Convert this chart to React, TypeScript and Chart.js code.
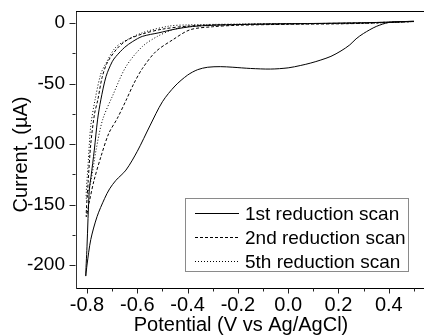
import React, { useEffect, useRef } from "react";
import { Chart, registerables } from "chart.js";
Chart.register(...registerables);

// 1st reduction scan (solid): forward sweep 0.5 -> -0.805, then return
const scan1X = [0.5, 0.45, 0.4, 0.35, 0.3, 0.27, 0.245, 0.21, 0.17, 0.13, 0.09, 0.05, 0.0, -0.07, -0.15, -0.22, -0.27, -0.32, -0.36, -0.4, -0.45, -0.5, -0.55, -0.6, -0.645, -0.685, -0.71, -0.73, -0.76, -0.785, -0.8, -0.805,
  -0.8, -0.791, -0.784, -0.771, -0.758, -0.745, -0.724, -0.7, -0.685, -0.65, -0.618, -0.58, -0.514, -0.45, -0.38, -0.3, -0.2, -0.1, 0.0, 0.1, 0.2, 0.3, 0.4, 0.5];
const scan1Y = [1.5, 1.2, 0.5, -2.8, -8.5, -13, -18, -23, -27.5, -30.5, -33, -35, -37, -38, -37.5, -36.5, -36, -36.5, -38.5, -43, -52, -65, -85, -106, -121.5, -130, -137, -145, -160, -179, -200, -209,
  -185, -138, -127, -105, -80, -63.5, -44, -32, -27.6, -20, -15.2, -11, -8, -5, -2.8, -1.8, -1.2, -0.8, -0.5, -0.3, 0, 0.3, 0.8, 1.5];

// 2nd reduction scan (dashed)
const scan2X = [0.5, 0.4, 0.3, 0.2, 0.0, -0.2, -0.3, -0.39, -0.459, -0.526, -0.579, -0.613, -0.645, -0.68, -0.713, -0.744, -0.772, -0.79, -0.803,
  -0.795, -0.785, -0.77, -0.757, -0.74, -0.72, -0.68, -0.64, -0.58, -0.5, -0.4, -0.3, -0.1, 0.1, 0.3, 0.5];
const scan2Y = [1.3, 0.5, -0.2, -0.6, -1, -1.8, -3, -5.5, -13.8, -23.5, -37.3, -49.7, -64, -79, -91, -110, -130, -147, -160,
  -130, -100, -75, -63.5, -45, -33, -21, -14, -9, -5, -2.5, -1.5, -0.8, -0.4, 0.2, 1.3];

// 5th reduction scan (dotted)
const scan5X = [0.5, 0.3, 0.1, -0.1, -0.3, -0.4, -0.459, -0.52, -0.58, -0.645, -0.698, -0.738, -0.764, -0.784, -0.803,
  -0.795, -0.785, -0.768, -0.745, -0.724, -0.69, -0.66, -0.58, -0.474, -0.4, -0.2, 0.0, 0.2, 0.5];
const scan5Y = [1.3, -0.2, -0.5, -0.9, -1.8, -3, -5.5, -11, -19.4, -36, -60, -80, -105, -130, -145,
  -115, -85, -63.5, -42, -33, -21, -16, -8, -2.5, -1.5, -0.8, -0.4, -0.2, 1.3];

const seriesLabels = ["1st reduction scan", "2nd reduction scan", "5th reduction scan"];
const seriesDash: number[][] = [[], [3, 2], [1, 2]];

const xMajorTicks = [-0.8, -0.6, -0.4, -0.2, 0, 0.2, 0.4];
const xMinorTicks = [-0.7, -0.5, -0.3, -0.1, 0.1, 0.3, 0.5];
const yMajorTicks = [0, -50, -100, -150, -200];
const yMinorTicks = [-25, -75, -125, -175];
const xTitle = "Potential (V vs Ag/AgCl)";
const yTitle = "Current  (\u00b5A)";

const FONT = "'Liberation Sans', Arial, sans-serif";

const toPoints = (xs: number[], ys: number[]) => xs.map((x, i) => ({ x, y: ys[i] }));

const framePlugin = {
  id: "framePlugin",
  afterDraw(chart: any) {
    const { ctx, chartArea } = chart;
    const xs = chart.scales.x;
    const ys = chart.scales.y;
    ctx.save();
    // top border
    ctx.strokeStyle = "#000";
    ctx.lineWidth = 1;
    ctx.beginPath();
    ctx.moveTo(chartArea.left, Math.round(chartArea.top) + 0.5);
    ctx.lineTo(chartArea.right, Math.round(chartArea.top) + 0.5);
    ctx.stroke();
    // ticks
    ctx.strokeStyle = "#222";
    const bottom = Math.round(chartArea.bottom) + 0.5;
    const left = Math.round(chartArea.left) - 0.5;
    const drawX = (v: number, len: number) => {
      const px = Math.round(xs.getPixelForValue(v)) + 0.5;
      ctx.beginPath();
      ctx.moveTo(px, bottom);
      ctx.lineTo(px, bottom + len);
      ctx.stroke();
    };
    const drawY = (v: number, len: number) => {
      const py = Math.round(ys.getPixelForValue(v)) + 0.5;
      ctx.beginPath();
      ctx.moveTo(left, py);
      ctx.lineTo(left - len, py);
      ctx.stroke();
    };
    xMajorTicks.forEach((v) => drawX(v, 5));
    xMinorTicks.forEach((v) => drawX(v, 3));
    yMajorTicks.forEach((v) => drawY(v, 6));
    yMinorTicks.forEach((v) => drawY(v, 3));
    // axis titles
    ctx.fillStyle = "#000";
    ctx.font = `20px ${FONT}`;
    ctx.textAlign = "center";
    ctx.textBaseline = "alphabetic";
    ctx.fillText(xTitle, 241, 331);
    ctx.save();
    ctx.translate(27, (chartArea.top + chartArea.bottom) / 2 + 5);
    ctx.rotate(-Math.PI / 2);
    ctx.fillText(yTitle, 0, 0);
    ctx.restore();
    // legend
    const bx = 185.5, by = 198.5, bw = 223, bh = 73;
    ctx.strokeStyle = "#8a8a8a";
    ctx.lineWidth = 1;
    ctx.strokeRect(bx, by, bw, bh);
    ctx.font = `19px ${FONT}`;
    ctx.textAlign = "left";
    ctx.textBaseline = "middle";
    const rows = [213.5, 237.5, 261.5];
    chart.data.datasets.forEach((ds: any, i: number) => {
      ctx.strokeStyle = "#000";
      ctx.setLineDash(ds.borderDash || []);
      ctx.beginPath();
      ctx.moveTo(195, rows[i]);
      ctx.lineTo(239, rows[i]);
      ctx.stroke();
      ctx.setLineDash([]);
      ctx.fillStyle = "#000";
      ctx.fillText(ds.label, 245, rows[i] + 1);
    });
    ctx.restore();
  },
};

export default function App() {
  const ref = useRef<HTMLCanvasElement | null>(null);
  useEffect(() => {
    if (!ref.current) return;
    const series = [
      toPoints(scan1X, scan1Y),
      toPoints(scan2X, scan2Y),
      toPoints(scan5X, scan5Y),
    ];
    const chart = new Chart(ref.current, {
      type: "scatter",
      data: {
        datasets: series.map((data, i) => ({
          label: seriesLabels[i],
          data,
          showLine: true,
          borderColor: "#000",
          backgroundColor: "#000",
          borderWidth: 1,
          borderDash: seriesDash[i],
          pointRadius: 0,
          tension: 0.3,
          fill: false,
        })),
      },
      options: {
        responsive: false,
        animation: false,
        devicePixelRatio: 1,
        layout: { padding: { top: 11, right: 0, left: 0, bottom: 0 } },
        plugins: { legend: { display: false }, tooltip: { enabled: false } },
        scales: {
          x: {
            type: "linear",
            min: -0.8437,
            max: 0.54,
            grid: { display: false },
            border: { display: true, color: "#000", width: 1 },
            afterFit: (s: any) => { s.height = 47; },
            ticks: {
              stepSize: 0.2,
              includeBounds: false,
              maxRotation: 0,
              autoSkip: false,
              padding: -3,
              color: "#000",
              font: { family: FONT, size: 20 },
              callback: (v: any) => {
                const n = Number(v);
                return Math.abs(n) < 1e-9 ? "0.0" : n.toFixed(1);
              },
            },
          },
          y: {
            type: "linear",
            min: -219,
            max: 10,
            grid: { display: false },
            border: { display: true, color: "#333", width: 1 },
            afterFit: (s: any) => { s.width = 76; },
            ticks: {
              stepSize: 50,
              includeBounds: false,
              padding: 3,
              color: "#000",
              font: { family: FONT, size: 19, lineHeight: 0.1 },
              callback: (v: any) => String(Math.round(Number(v))),
            },
          },
        },
      },
      plugins: [framePlugin],
    });
    return () => chart.destroy();
  }, []);
  return (
    <div style={{ position: "absolute", left: 0, top: 0, width: 424, height: 335, background: "#fff" }}>
      <canvas ref={ref} width={424} height={335} style={{ width: 424, height: 335, display: "block" }} />
    </div>
  );
}
